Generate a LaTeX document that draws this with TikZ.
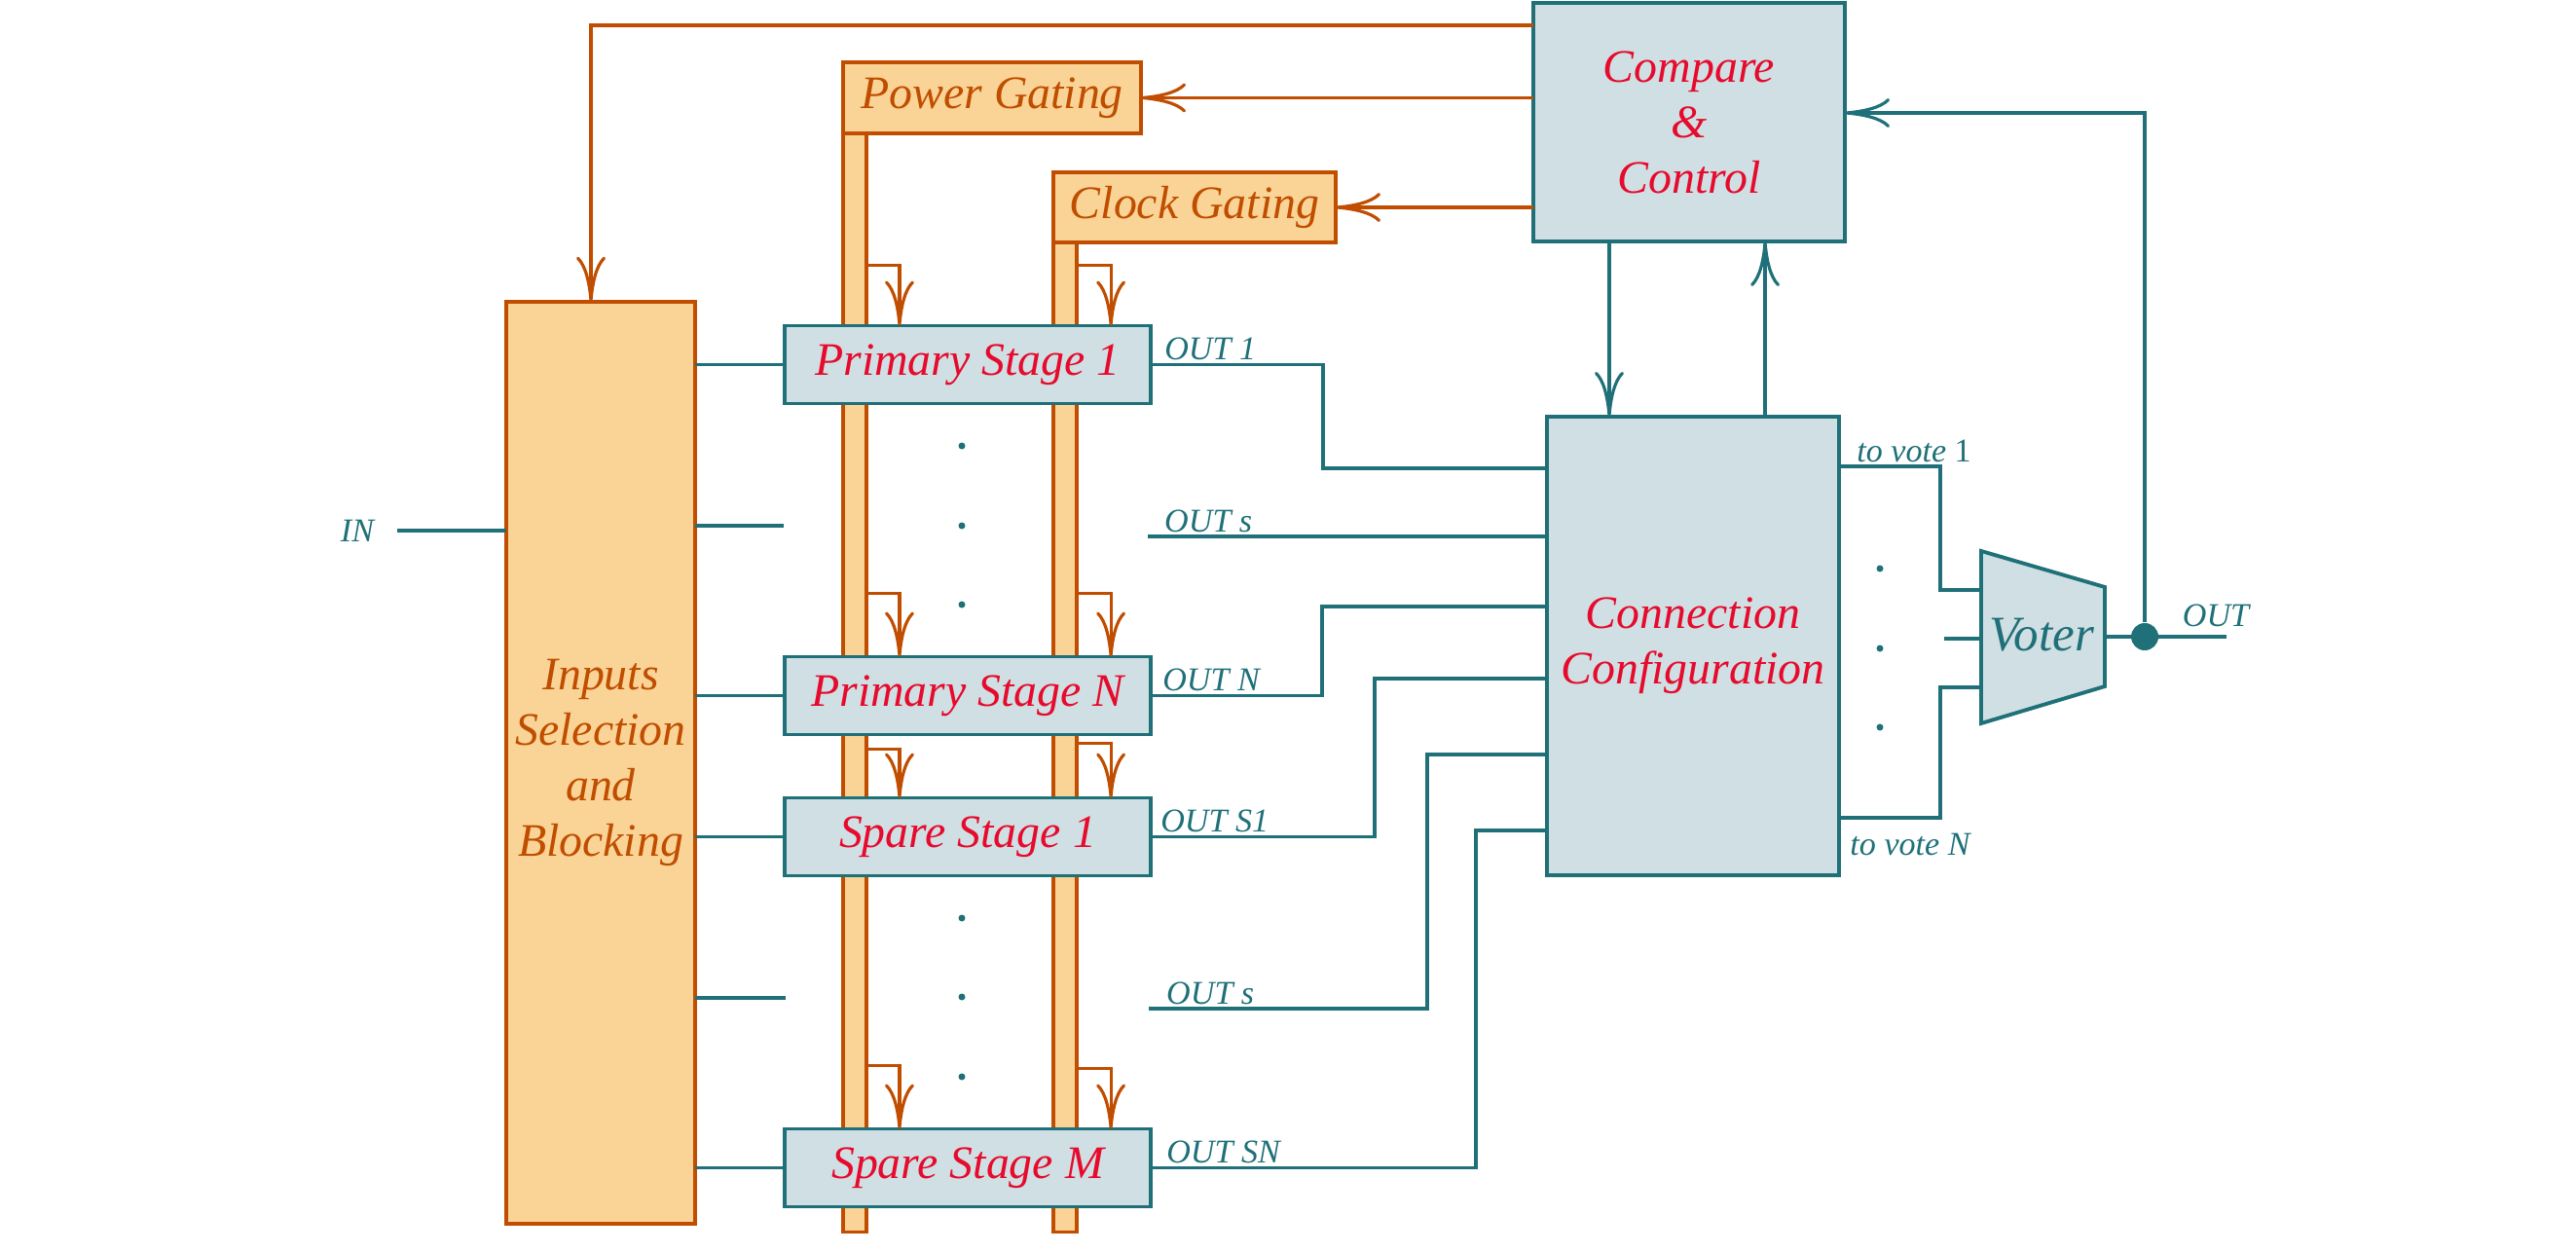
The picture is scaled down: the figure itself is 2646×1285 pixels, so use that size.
\documentclass[tikz,border=0pt]{standalone}
\usepackage{fontspec}
\setmainfont{Liberation Serif}
\usetikzlibrary{arrows.meta,calc}
\definecolor{rust}{RGB}{192,77,0}
\definecolor{sand}{RGB}{249,212,150}
\definecolor{petrol}{RGB}{31,112,120}
\definecolor{mist}{RGB}{208,223,227}
\definecolor{crimson}{RGB}{230,10,45}
\begin{document}
\begin{tikzpicture}[
	x=0.01cm, y=-0.01cm,
	box/.style={ draw, inner sep=0pt, outer sep=0pt, line width=1.1pt, align=center, font=\itshape\fontsize{13.6}{16.2}\selectfont },
	stage/.style={ box, draw=petrol, fill=mist, text=crimson, minimum width=3.76cm, minimum height=0.8cm },
	ctrl/.style={ box, draw=petrol, fill=mist, text=crimson },
	gate/.style={ box, draw=rust, fill=sand, text=rust },
	rail/.style={ draw=rust, fill=sand, line width=0.9pt, inner sep=0pt, outer sep=0pt, minimum width=0.24cm },
	owire/.style={ rust, line width=0.9pt },
	twire/.style={ petrol, line width=0.9pt },
	headto/.style={ -{Computer Modern Rightarrow[length=4.6mm,width=3mm]} },
	lbl/.style={ petrol, inner sep=1pt, font=\itshape\fontsize{9.7}{11}\selectfont },
	pt/.style={ circle, fill=petrol, inner sep=0pt, minimum size=0.07cm }
]
	\useasboundingbox (0,0) rectangle (2646,1285);
	\node at (878,701) (prail) [rail, minimum height=11.28cm] {};
	\node at (1094,757) (crail) [rail, minimum height=10.16cm] {};
	\node at (617,783.5) (sel) [gate, minimum width=1.94cm, minimum height=9.47cm] {Inputs\\Selection\\and\\Blocking};
	\node at (1019,100.5) (pg) [gate, minimum width=3.06cm, minimum height=0.73cm] {Power Gating};
	\node at (1227,213) (cg) [gate, minimum width=2.9cm, minimum height=0.72cm] {Clock Gating};
	\node at (1735,125.5) (cmp) [ctrl, minimum width=3.2cm, minimum height=2.45cm] {Compare\\\&\\Control};
	\node at (1739,663.5) (conf) [ctrl, minimum width=3cm, minimum height=4.71cm] {Connection\\Configuration};
	\node at (994,374.5) (ps1) [stage] {Primary Stage 1};
	\node at (994,714.5) (psn) [stage] {Primary Stage N};
	\node at (994,859.5) (ss1) [stage] {Spare Stage 1};
	\node at (994,1199.5) (ssm) [stage] {Spare Stage M};

	\foreach \s/\g/\h in {ps1/62/62,psn/65/65,ss1/50/56,ssm/65/62} {
		\draw[owire,headto] ($(prail.east |- \s.north)+(0,-\g)$) -| ([xshift=-0.7cm]\s.north);
		\draw[owire,headto] ($(crail.east |- \s.north)+(0,-\h)$) -| ([xshift=1.47cm]\s.north);
		\draw[twire] (sel.east |- \s.west) -- (\s.west);
	}
	\coordinate (top) at (607,26);
	\draw[owire,headto] (cmp.west |- top) -- (top) -- (top |- sel.north);
	\draw[owire,headto] (cmp.west |- pg.east) -- (pg.east);
	\draw[owire,headto] (cmp.west |- cg.east) -- (cg.east);

	\coordinate (m1) at (805,540);
	\coordinate (m2) at (807,1025);
	\draw[twire] (sel.east |- m1) -- (m1);
	\draw[twire] (sel.east |- m2) -- (m2);
	\node at (367,545) (in) [lbl] {IN};
	\draw[twire] ([xshift=0.2cm]in.east) -- (sel.west |- in.east);

	\foreach \y in {458,540,621,943,1024,1106}
		\node at (988,\y) (d\y) [pt] {};

	\coordinate (j1) at (1359,481);
	\coordinate (o2) at (1179,551);
	\coordinate (j2) at (1358,623);
	\coordinate (j3) at (1412,697);
	\coordinate (o4) at (1180,1036);
	\coordinate (j4) at (1466,775);
	\coordinate (j5) at (1516,853);
	\draw[twire] (ps1.east) -| (j1) -- (conf.west |- j1);
	\draw[twire] (o2) -- (conf.west |- o2);
	\draw[twire] (psn.east) -| (j2) -- (conf.west |- j2);
	\draw[twire] (ss1.east) -| (j3) -- (conf.west |- j3);
	\draw[twire] (o4) -| (j4) -- (conf.west |- j4);
	\draw[twire] (ssm.east) -| (j5) -- (conf.west |- j5);
	\node at ([xshift=0.1cm]ps1.east) (l1) [lbl, anchor=south west] {OUT 1};
	\node at ([xshift=0.13cm]o2) (l2) [lbl, anchor=south west] {OUT s};
	\node at ([xshift=0.08cm]psn.east) (l3) [lbl, anchor=south west] {OUT N};
	\node at ([xshift=0.06cm]ss1.east) (l4) [lbl, anchor=south west] {OUT S1};
	\node at ([xshift=0.14cm]o4) (l5) [lbl, anchor=south west] {OUT s};
	\node at ([xshift=0.12cm]ssm.east) (l6) [lbl, anchor=south west] {OUT SN};

	\draw[twire,headto] ([xshift=-0.82cm]cmp.south) -- ([xshift=-0.82cm]cmp.south |- conf.north);
	\draw[twire,headto] ([xshift=0.78cm]cmp.south |- conf.north) -- ([xshift=0.78cm]cmp.south);

	\draw[petrol, fill=mist, line width=1.1pt] (2035,566) -- (2162,603) -- (2162,705) -- (2035,743) -- cycle;
	\node at (2097,652) (vot) [text=petrol, font=\itshape\fontsize{14.5}{16}\selectfont] {Voter};
	\coordinate (v1) at (2035,606);
	\coordinate (v2) at (2035,656);
	\coordinate (v3) at (2035,706);
	\coordinate (k1) at (1993,479);
	\coordinate (k3) at (1993,840);
	\draw[twire] (conf.east |- k1) -- (k1) |- (v1);
	\draw[twire] (conf.east |- k3) -- (k3) |- (v3);
	\draw[twire] ([xshift=-0.38cm]v2) -- (v2);
	\node at ([xshift=0.14cm]conf.east |- k1) (tv1) [lbl, anchor=south west] {to vote \upshape 1};
	\node at (1962,867) (tvn) [lbl] {to vote N};
	\foreach \y in {584,666,747}
		\node at (1931,\y) (e\y) [pt] {};

	\coordinate (vo) at (2162,654);
	\coordinate (oend) at (2287,654);
	\coordinate (fb) at (2203,116);
	\node at (2203,654) (split) [pt, minimum size=0.28cm] {};
	\draw[twire] (vo) -- (oend);
	\draw[twire,headto] (split) -- (fb) -- (cmp.east |- fb);
	\node at (2276,632) (out) [lbl] {OUT};
\end{tikzpicture}
\end{document}
